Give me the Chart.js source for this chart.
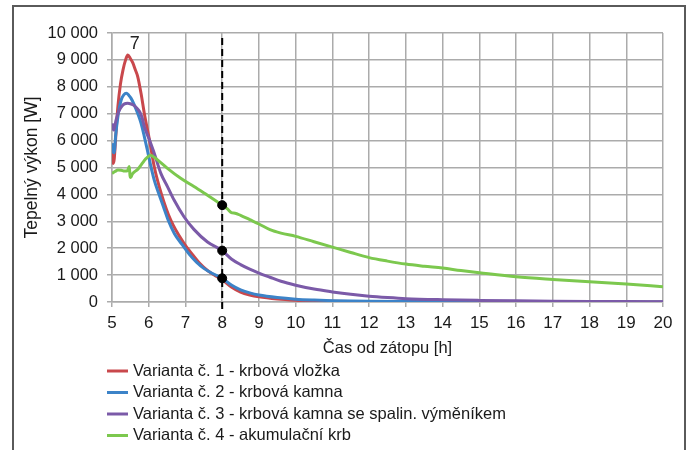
<!DOCTYPE html>
<html lang="cs">
<head>
    <meta charset="UTF-8">
    <title>Tepelný výkon</title>
    <script src="https://cdn.jsdelivr.net/npm/chart.js"></script>
    <style>
        body {
            margin: 0;
            padding: 0;
            background-color: #ffffff;
        }
        #frame {
            position: absolute;
            left: 12px;
            top: 5px;
            width: 670px;
            height: 470px;
            border: 2px solid #5a5a5a;
        }
        #wrap {
            position: absolute;
            left: 0;
            top: 0;
            width: 689px;
            height: 450px;
        }
    </style>
</head>
<body>
    <div id="frame"></div>
    <div id="wrap"><canvas id="myChart"></canvas></div>

    <script>
        // Varianta 1 - krbová vložka
        const hours1 = [5.00, 5.03, 5.06, 5.10, 5.16, 5.23, 5.30, 5.37, 5.43, 5.50, 5.57, 5.63, 5.70, 5.79, 5.88, 6.02, 6.15, 6.34, 6.60, 6.95, 7.2, 7.4, 7.6, 7.8, 8.0, 8.25, 8.5, 8.75, 9.0, 9.5, 10, 10.5, 11, 12, 13, 14, 16, 18, 20];
        const power1 = [5600, 5150, 5300, 6100, 7260, 8100, 8630, 9000, 9180, 9050, 8880, 8650, 8380, 7760, 7010, 6020, 5030, 4040, 3040, 2200, 1750, 1420, 1170, 990, 830, 560, 370, 260, 190, 110, 65, 40, 25, 12, 6, 3, 1, 0, 0];

        // Varianta 2 - krbová kamna
        const hours2 = [5.00, 5.03, 5.06, 5.10, 5.16, 5.25, 5.32, 5.39, 5.46, 5.52, 5.60, 5.70, 5.79, 5.88, 5.97, 6.06, 6.15, 6.27, 6.40, 6.53, 6.70, 6.90, 7.1, 7.3, 7.5, 7.75, 8.0, 8.25, 8.5, 8.75, 9.0, 9.5, 10, 10.5, 11, 12, 13, 14, 15, 16, 18, 20];
        const power2 = [5900, 5600, 5550, 6200, 6890, 7510, 7700, 7760, 7680, 7570, 7350, 7010, 6650, 6150, 5600, 5030, 4530, 4040, 3540, 3040, 2540, 2150, 1780, 1480, 1250, 1050, 880, 630, 450, 340, 260, 165, 105, 72, 50, 28, 18, 12, 8, 5, 3, 2];

        // Varianta 3 - krbová kamna se spalin. výměníkem
        const hours3 = [5.00, 5.03, 5.05, 5.10, 5.16, 5.23, 5.30, 5.37, 5.43, 5.50, 5.57, 5.66, 5.75, 5.82, 5.88, 6.02, 6.15, 6.33, 6.51, 6.69, 6.96, 7.23, 7.6, 8.0, 8.25, 8.5, 8.75, 9.0, 9.3, 9.6, 10, 10.5, 11, 11.5, 12, 12.5, 13, 14, 15, 16, 17, 18, 19, 20];
        const power3 = [6640, 6450, 6390, 6700, 7010, 7200, 7330, 7380, 7390, 7370, 7330, 7230, 7080, 6850, 6520, 6020, 5530, 4780, 4290, 3790, 3170, 2700, 2230, 1910, 1600, 1390, 1220, 1075, 920, 770, 625, 480, 375, 285, 215, 165, 125, 85, 60, 42, 30, 22, 16, 12];

        // Varianta 4 - akumulační krb
        const hours4 = [5.00, 5.08, 5.16, 5.25, 5.34, 5.42, 5.47, 5.49, 5.51, 5.55, 5.61, 5.70, 5.79, 5.86, 5.93, 6.05, 6.15, 6.24, 6.51, 6.87, 7.23, 7.6, 8.0, 8.15, 8.25, 8.35, 8.5, 8.75, 9.0, 9.3, 9.6, 10, 10.5, 11, 11.5, 12, 12.5, 13, 13.5, 14, 14.5, 15, 16, 17, 18, 19, 20];
        const power4 = [4780, 4850, 4910, 4900, 4870, 4880, 5040, 4700, 4630, 4750, 4840, 4930, 5090, 5220, 5340, 5460, 5380, 5280, 4970, 4600, 4290, 3970, 3600, 3450, 3320, 3300, 3220, 3060, 2900, 2690, 2560, 2440, 2240, 2040, 1840, 1650, 1520, 1410, 1330, 1260, 1170, 1090, 940, 840, 755, 670, 570];

        // body odečtu v 8. hodině
        const markHour = 8;
        const markPower = [880, 1910, 3600];

        const seriesLabels = [
            'Varianta č. 1 - krbová vložka',
            'Varianta č. 2 - krbová kamna',
            'Varianta č. 3 - krbová kamna se spalin. výměníkem',
            'Varianta č. 4 - akumulační krb'
        ];
        const seriesColors = ['#c9484c', '#3c83c8', '#7b5aa8', '#7cc84e'];

        const xTicks = [5, 6, 7, 8, 9, 10, 11, 12, 13, 14, 15, 16, 17, 18, 19, 20];
        const yTicks = [0, 1000, 2000, 3000, 4000, 5000, 6000, 7000, 8000, 9000, 10000];

        const peakLabel = '7';
        const peakLabelPos = {x: 5.62, y: 9580};

        const FONT = "'Liberation Sans', Arial, sans-serif";

        function pairs(xs, ys) {
            return xs.map((x, i) => ({x: x, y: ys[i]}));
        }

        function spaced(v) {
            return String(v).replace(/\B(?=(\d{3})+(?!\d))/g, ' ');
        }

        const allHours = [hours1, hours2, hours3, hours4];
        const allPower = [power1, power2, power3, power4];

        const datasets = allHours.map((h, i) => ({
            label: seriesLabels[i],
            data: pairs(h, allPower[i]),
            borderColor: seriesColors[i],
            backgroundColor: seriesColors[i],
            borderWidth: 3,
            pointRadius: 0,
            cubicInterpolationMode: 'monotone',
            order: 4 - i + 1
        }));

        datasets.push({
            label: 'marks',
            data: markPower.map(p => ({x: markHour, y: p})),
            showLine: false,
            pointRadius: 4.5,
            pointBackgroundColor: '#000000',
            pointBorderColor: '#000000',
            order: 0
        });

        // čárkovaná svislá čára v 8. hodině + popisek "7"
        const dashPlugin = {
            id: 'dashLine',
            beforeDatasetsDraw(chart) {
                const {ctx, scales: {x, y}, chartArea} = chart;
                const px = x.getPixelForValue(markHour);
                ctx.save();
                ctx.strokeStyle = '#000000';
                ctx.lineWidth = 2;
                ctx.setLineDash([7, 4]);
                ctx.beginPath();
                ctx.moveTo(px, y.getPixelForValue(10000) + 5);
                ctx.lineTo(px, chartArea.bottom + 10);
                ctx.stroke();
                ctx.restore();
            },
            afterDatasetsDraw(chart) {
                const {ctx, scales: {x, y}} = chart;
                ctx.save();
                ctx.fillStyle = '#222222';
                ctx.font = '18px ' + FONT;
                ctx.textAlign = 'center';
                ctx.textBaseline = 'middle';
                ctx.fillText(peakLabel, x.getPixelForValue(peakLabelPos.x), y.getPixelForValue(peakLabelPos.y));
                ctx.restore();
            }
        };

        // legenda pod grafem, jedna položka na řádek
        const legendPlugin = {
            id: 'rowLegend',
            afterDraw(chart) {
                const ctx = chart.ctx;
                ctx.save();
                ctx.font = '16.5px ' + FONT;
                ctx.textBaseline = 'middle';
                ctx.fillStyle = '#1a1a1a';
                seriesLabels.forEach((label, i) => {
                    const yy = 371 + i * 21.5;
                    ctx.strokeStyle = seriesColors[i];
                    ctx.lineWidth = 3;
                    ctx.beginPath();
                    ctx.moveTo(107, yy);
                    ctx.lineTo(128, yy);
                    ctx.stroke();
                    ctx.fillText(label, 133, yy);
                });
                ctx.restore();
            }
        };

        const ctx = document.getElementById('myChart').getContext('2d');
        new Chart(ctx, {
            type: 'line',
            data: {datasets: datasets},
            options: {
                responsive: true,
                maintainAspectRatio: false,
                animation: false,
                layout: {
                    padding: {left: 16, right: 26, top: 33, bottom: 92}
                },
                scales: {
                    x: {
                        type: 'linear',
                        min: xTicks[0],
                        max: xTicks[xTicks.length - 1],
                        afterBuildTicks: s => { s.ticks = xTicks.map(v => ({value: v})); },
                        afterFit: s => { s.height = 56; },
                        grid: {color: '#ababab', lineWidth: 1.5, tickLength: 5},
                        border: {color: '#ababab', width: 1.5},
                        ticks: {
                            color: '#1a1a1a',
                            padding: 6,
                            maxRotation: 0,
                            font: {family: FONT, size: 17}
                        },
                        title: {
                            display: true,
                            text: 'Čas od zátopu [h]',
                            color: '#1a1a1a',
                            padding: 0,
                            font: {family: FONT, size: 16.5}
                        }
                    },
                    y: {
                        min: yTicks[0],
                        max: yTicks[yTicks.length - 1],
                        afterBuildTicks: s => { s.ticks = yTicks.map(v => ({value: v})); },
                        afterFit: s => { s.width = 96; },
                        grid: {color: '#ababab', lineWidth: 1.5, tickLength: 5},
                        border: {color: '#ababab', width: 1.5},
                        ticks: {
                            color: '#1a1a1a',
                            padding: 9,
                            font: {family: FONT, size: 16.5},
                            callback: v => spaced(v)
                        },
                        title: {
                            display: true,
                            text: 'Tepelný výkon [W]',
                            color: '#1a1a1a',
                            padding: {top: 6, bottom: 0},
                            font: {family: FONT, size: 17.5}
                        }
                    }
                },
                plugins: {
                    legend: {display: false},
                    tooltip: {enabled: false}
                }
            },
            plugins: [dashPlugin, legendPlugin]
        });
    </script>
</body>
</html>
